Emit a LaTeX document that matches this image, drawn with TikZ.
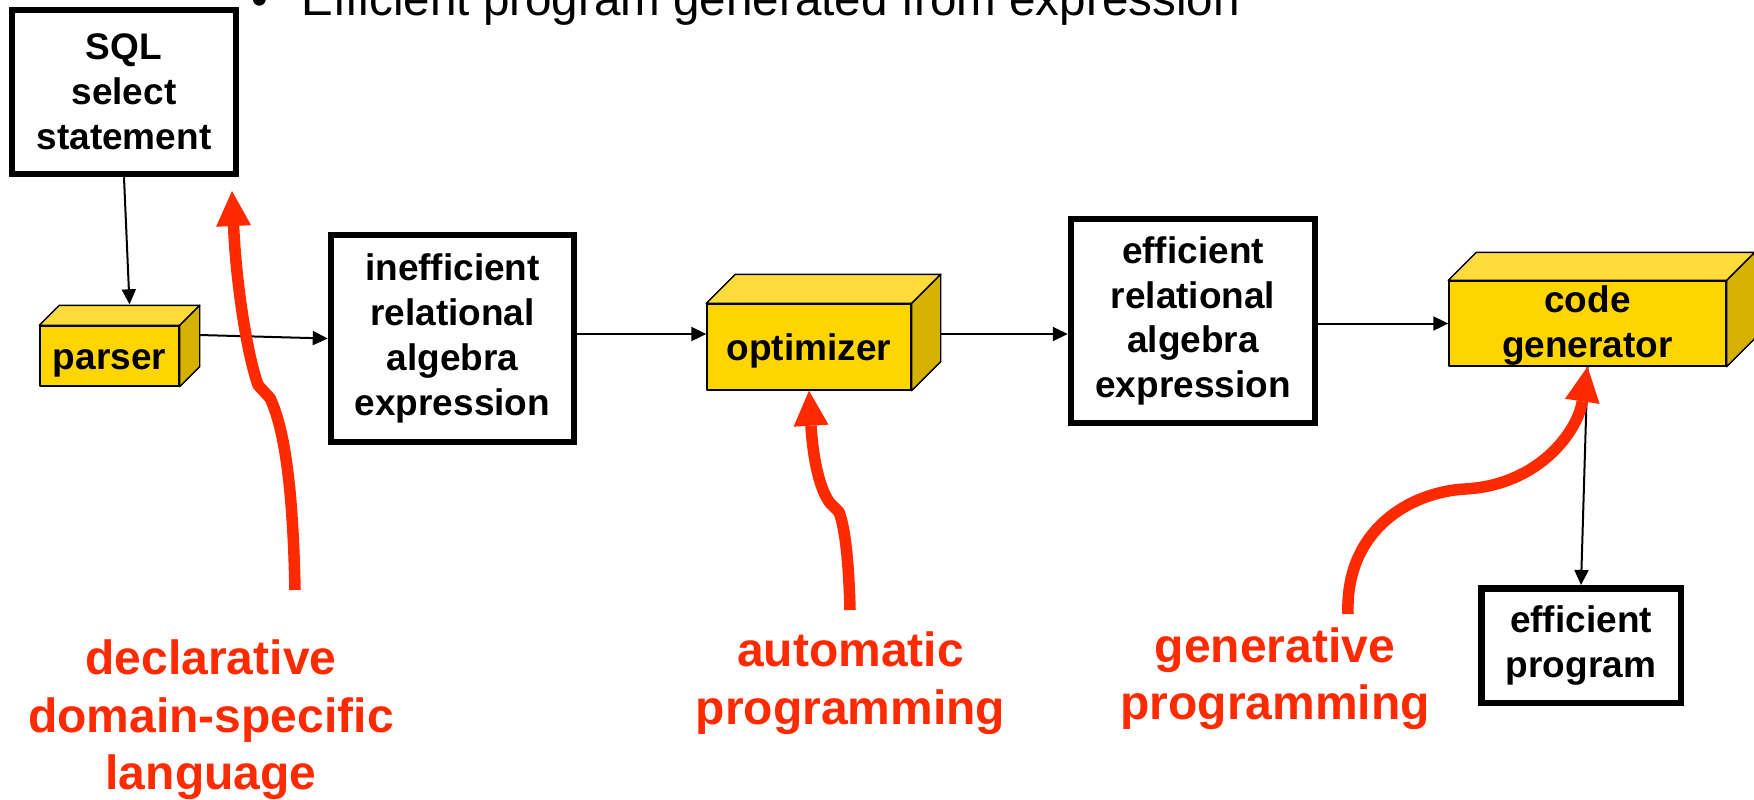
\documentclass[tikz,border=0pt]{standalone}
\usepackage{fontspec}
\setmainfont{Liberation Sans}
\usetikzlibrary{arrows.meta,calc}
\definecolor{cubefront}{RGB}{255,213,0}
\definecolor{cubetop}{RGB}{255,220,60}
\definecolor{cubeside}{RGB}{214,178,0}
\definecolor{notered}{RGB}{255,42,0}
% top and right faces of a yellow block, #1 = front node, #2 = depth
\newcommand\yellowcube[2]{%
  \draw[cubeline, fill=cubetop] (#1.north west) -- ++(#2,-#2)
    -- ([shift={(#2,-#2)}]#1.north east) -- (#1.north east) -- cycle;
  \draw[cubeline, fill=cubeside] (#1.north east) -- ++(#2,-#2)
    -- ([shift={(#2,-#2)}]#1.south east) -- (#1.south east) -- cycle;
}
\begin{document}
\begin{tikzpicture}[x=0.5pt,y=-0.5pt,
  frame/.style={draw=black, line width=3.25pt, fill=white, align=center, inner sep=0pt,
    font=\bfseries\fontsize{18.5}{22.4}\selectfont},
  cubeline/.style={draw=black, line width=0.7pt, line join=round},
  cube/.style={cubeline, fill=cubefront, inner sep=0pt},
  cubetext/.style={align=center, inner sep=0pt,
    font=\bfseries\fontsize{18.5}{22.5}\selectfont},
  conn/.style={line width=1pt, -{Triangle[length=7.5pt,width=7pt]}},
  hint/.style={draw=notered, line width=5.75pt, line join=round,
    -{Triangle[length=17.5pt,width=17.5pt,line width=0pt]}},
  note/.style={text=notered, align=center, inner sep=0pt,
    font=\bfseries\fontsize{24}{28.75}\selectfont},
]
\fill[white] (0,0) rectangle (1754,799);
\clip (0,0) rectangle (1754,799);
\useasboundingbox (0,0) rectangle (1754,799);

% heading line
\node[anchor=base, inner sep=0pt, font=\fontsize{23.8}{28}\selectfont] (dot) at (260,15) {•};
\node[anchor=base west, inner sep=0pt, font=\fontsize{23.8}{28}\selectfont] (title) at (301,15)
  {Efficient program generated from expression};

% data boxes
\node[frame, minimum width=112pt, minimum height=82pt] (sql) at (124,92) {SQL\\select\\statement};
\node[frame, minimum width=121.5pt, minimum height=103.5pt] (ineff) at (452.5,338.5)
  {inefficient\\relational\\algebra\\expression};
\node[frame, minimum width=122pt, minimum height=102pt] (eff) at (1193,321)
  {efficient\\relational\\algebra\\expression};
\node[frame, minimum width=99.75pt, minimum height=57.25pt] (effprog) at (1581,645.5)
  {efficient\\program};

% processing blocks
\node[cube, minimum width=69.5pt, minimum height=30pt] (parser) at (109.5,356) {};
\yellowcube{parser}{20}
\node[cubetext] (parser-t) at (109.5,363) {parser};
\node[cube, minimum width=102pt, minimum height=43pt] (opt) at (809,347) {};
\yellowcube{opt}{29}
\node[cubetext] (opt-t) at (809,351) {optimizer};
\node[cube, minimum width=138.5pt, minimum height=42.5pt] (cg) at (1587.5,323.5) {};
\yellowcube{cg}{28}
\node[cubetext] (cg-t) at (1587.5,326) {code\\generator};

% data flow
\coordinate (optin) at ([yshift=6.5pt]opt.west);
\draw[conn] (sql.south) -- ([shift={(20,-21)}]parser.north);
\draw[conn] ([shift={(20,-21)}]parser.east) -- (ineff.west);
\draw[conn] (ineff.east |- optin) -- (optin);
\draw[conn] ([xshift=14.5pt]opt.east |- optin) -- (eff.west |- optin);
\draw[conn] (eff.east |- cg.west) -- (cg.west);
\draw[conn] (cg.south) -- (effprog.north);

% annotations
\node[note] (decl) at (211,720) {declarative\\domain-specific\\language};
\node[note] (auto) at (850.5,683) {automatic\\programming};
\node[note] (gen) at (1275,678.5) {generative\\programming};

\coordinate (declfoot) at (295,590);
\coordinate (declhead) at (232,191);
\coordinate (autofoot) at (850,610);
\coordinate (genfoot) at (1348,614);

\draw[hint] (declfoot) .. controls (293,490) and (285,430) .. (270,398) -- (258,385)
  .. controls (246,350) and (236,280) .. (declhead);
\draw[hint] (autofoot) .. controls (849,570) and (846,530) .. (839,512) -- (830,503)
  .. controls (820,490) and (813,460) .. (opt.south);
\draw[hint] (genfoot) .. controls (1345,530) and (1410,492) .. (1465,489)
  .. controls (1540,485) and (1578,430) .. (cg.south);
\end{tikzpicture}
\end{document}
